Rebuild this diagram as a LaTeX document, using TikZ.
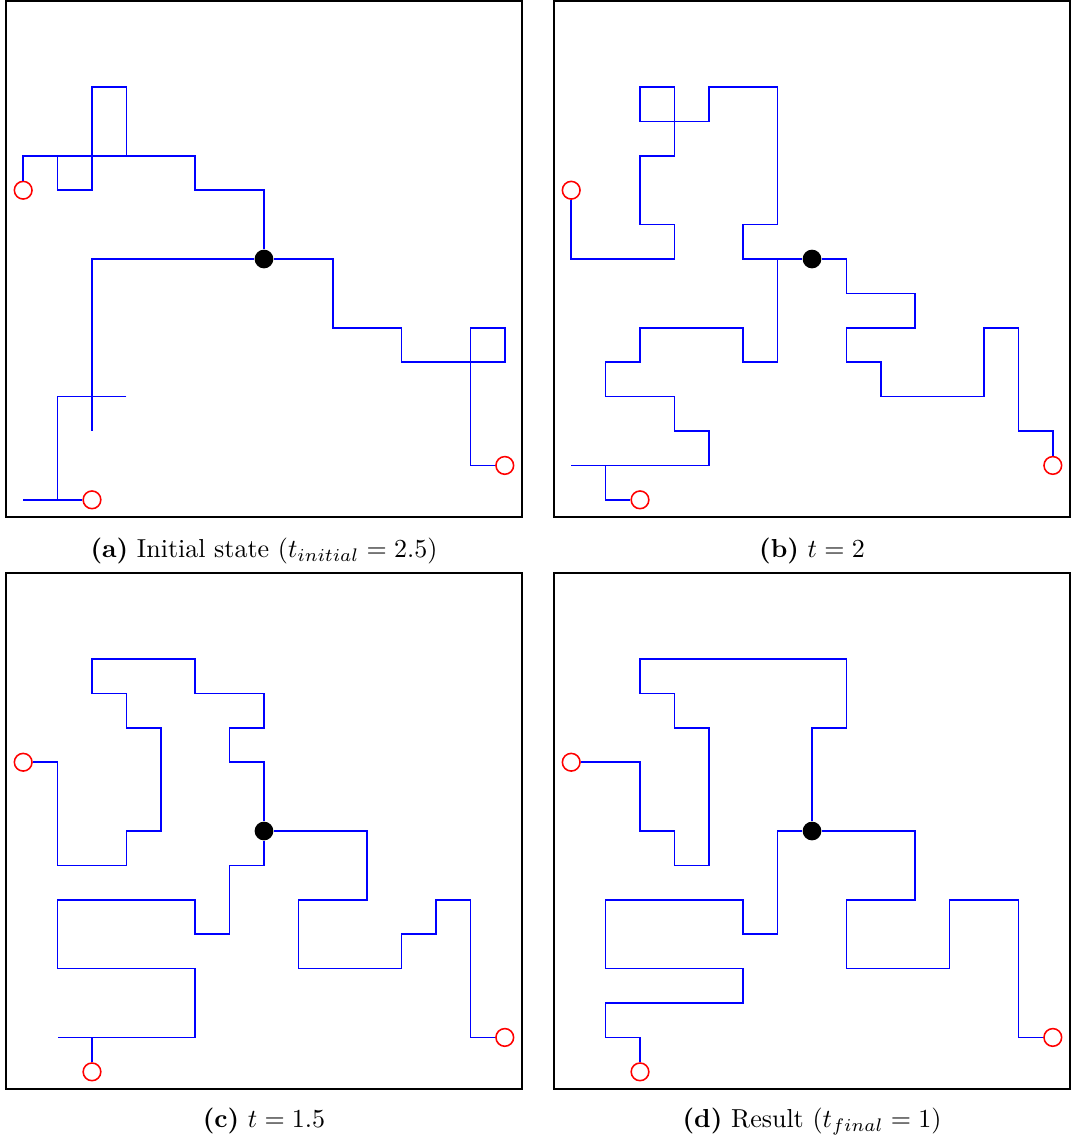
\documentclass[tikz,border=0pt]{standalone}
\usepackage{tikz}

\tikzset{
  walk/.style={blue, line width=0.6pt},
  panel/.style={draw=black, line width=0.7pt},
  hub/.style={circle, fill=black, inner sep=0pt, minimum size=7.2pt},
  endpt/.style={circle, draw=red, fill=white, line width=0.6pt, inner sep=0pt, minimum size=6.8pt},
  subcap/.style={anchor=base, inner sep=0pt},
}

\begin{document}
\begin{tikzpicture}[x=0.465cm, y=-0.465cm]
  \useasboundingbox (0,0) rectangle (31.163,33.198);

  \begin{scope}[shift={(0.674,0.53)}]
    \draw[panel] (-0.5,-0.5) rectangle (14.5,14.5);
    \node[hub] (a0) at (7,7) {};
    \node[endpt] (a1) at (0,5) {};
    \node[endpt] (a2) at (2,14) {};
    \node[endpt] (a3) at (14,13) {};
    \draw[walk] (a0) -- (7,5) -- (5,5) -- (5,4) -- (0,4) -- (a1);
    \draw[walk] (1,4) -- (1,5) -- (2,5) -- (2,2) -- (3,2) -- (3,4);
    \draw[walk] (a0) -- (2,7) -- (2,12);
    \draw[walk] (3,11) -- (1,11) -- (1,14);
    \draw[walk] (0,14) -- (a2);
    \draw[walk] (a0) -- (9,7) -- (9,9) -- (11,9) -- (11,10) -- (14,10) -- (14,9) -- (13,9) -- (13,13) -- (a3);
  \end{scope}

  \begin{scope}[shift={(16.605,0.53)}]
    \draw[panel] (-0.5,-0.5) rectangle (14.5,14.5);
    \node[hub] (b0) at (7,7) {};
    \node[endpt] (b1) at (0,5) {};
    \node[endpt] (b2) at (2,14) {};
    \node[endpt] (b3) at (14,13) {};
    \draw[walk] (b0) -- (5,7) -- (5,6) -- (6,6) -- (6,2) -- (4,2) -- (4,3) -- (2,3) -- (2,2) -- (3,2) -- (3,4) -- (2,4) -- (2,6) -- (3,6) -- (3,7) -- (0,7) -- (b1);
    \draw[walk] (6,7) -- (6,10) -- (5,10) -- (5,9) -- (2,9) -- (2,10) -- (1,10) -- (1,11) -- (3,11) -- (3,12) -- (4,12) -- (4,13) -- (0,13);
    \draw[walk] (1,13) -- (1,14) -- (b2);
    \draw[walk] (b0) -- (8,7) -- (8,8) -- (10,8) -- (10,9) -- (8,9) -- (8,10) -- (9,10) -- (9,11) -- (12,11) -- (12,9) -- (13,9) -- (13,12) -- (14,12) -- (b3);
  \end{scope}

  \begin{scope}[shift={(0.674,17.158)}]
    \draw[panel] (-0.5,-0.5) rectangle (14.5,14.5);
    \node[hub] (c0) at (7,7) {};
    \node[endpt] (c1) at (0,5) {};
    \node[endpt] (c2) at (2,14) {};
    \node[endpt] (c3) at (14,13) {};
    \draw[walk] (c0) -- (7,5) -- (6,5) -- (6,4) -- (7,4) -- (7,3) -- (5,3) -- (5,2) -- (2,2) -- (2,3) -- (3,3) -- (3,4) -- (4,4) -- (4,7) -- (3,7) -- (3,8) -- (1,8) -- (1,5) -- (c1);
    \draw[walk] (c0) -- (7,8) -- (6,8) -- (6,10) -- (5,10) -- (5,9) -- (1,9) -- (1,11) -- (5,11) -- (5,13) -- (1,13);
    \draw[walk] (2,13) -- (c2);
    \draw[walk] (c0) -- (10,7) -- (10,9) -- (8,9) -- (8,11) -- (11,11) -- (11,10) -- (12,10) -- (12,9) -- (13,9) -- (13,13) -- (c3);
  \end{scope}

  \begin{scope}[shift={(16.605,17.158)}]
    \draw[panel] (-0.5,-0.5) rectangle (14.5,14.5);
    \node[hub] (d0) at (7,7) {};
    \node[endpt] (d1) at (0,5) {};
    \node[endpt] (d2) at (2,14) {};
    \node[endpt] (d3) at (14,13) {};
    \draw[walk] (d0) -- (7,4) -- (8,4) -- (8,2) -- (2,2) -- (2,3) -- (3,3) -- (3,4) -- (4,4) -- (4,8) -- (3,8) -- (3,7) -- (2,7) -- (2,5) -- (d1);
    \draw[walk] (d0) -- (6,7) -- (6,10) -- (5,10) -- (5,9) -- (1,9) -- (1,11) -- (5,11) -- (5,12) -- (1,12) -- (1,13) -- (2,13) -- (d2);
    \draw[walk] (d0) -- (10,7) -- (10,9) -- (8,9) -- (8,11) -- (11,11) -- (11,9) -- (13,9) -- (13,13) -- (d3);
  \end{scope}

  \node[subcap] (capa) at (7.674,16.22) {\textbf{(a)} Initial state ($t_{initial} = 2.5$)};
  \node[subcap] (capb) at (23.605,16.22) {\textbf{(b)} $t = 2$};
  \node[subcap] (capc) at (7.674,32.79) {\textbf{(c)} $t = 1.5$};
  \node[subcap] (capd) at (23.605,32.79) {\textbf{(d)} Result ($t_{final} = 1$)};
\end{tikzpicture}
\end{document}
